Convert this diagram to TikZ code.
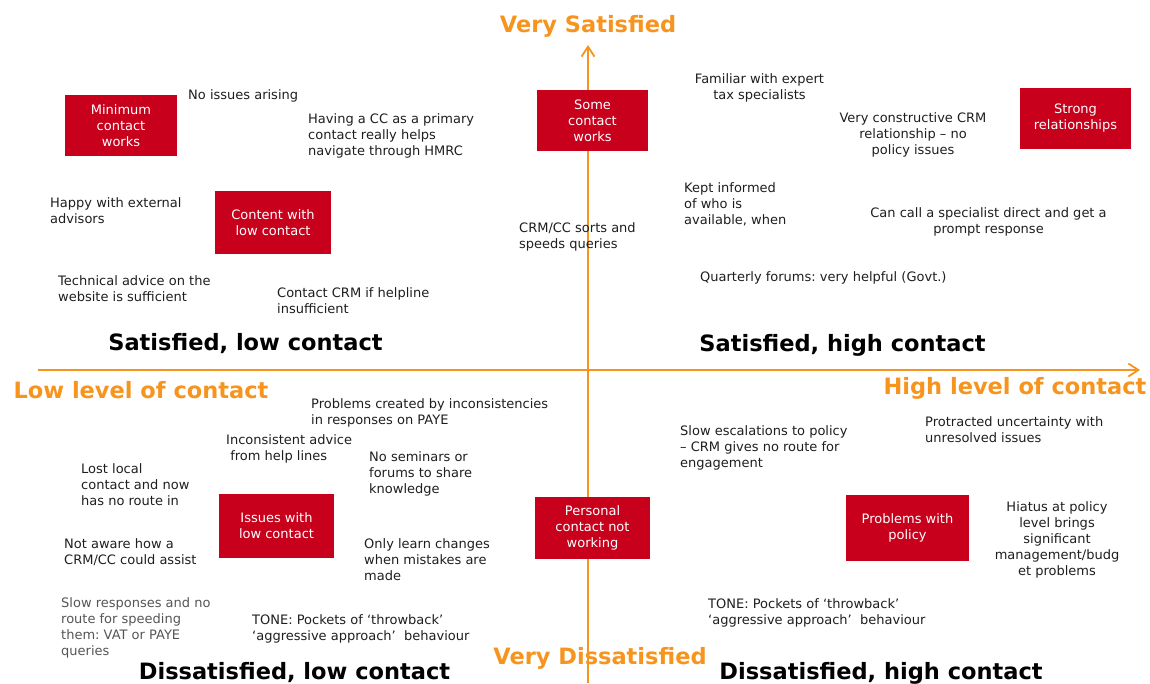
\documentclass[tikz,border=0pt]{standalone}
\usepackage{fontspec}
\setmainfont{DejaVu Sans}
\usetikzlibrary{arrows.meta}
\definecolor{axisorange}{RGB}{247,148,30}
\definecolor{boxred}{RGB}{200,0,28}
\definecolor{notegray}{RGB}{30,30,30}
\definecolor{faintgray}{RGB}{85,85,85}

\begin{document}
\begin{tikzpicture}[x=1pt, y=-1pt,
	box/.style={fill=boxred, text=white, align=center, inner sep=0pt, font=\fontsize{13}{16}\selectfont},
	note/.style={anchor=base west, align=left, inner sep=0pt, text=notegray, font=\fontsize{13}{16}\selectfont},
	cnote/.style={note, anchor=base, align=center},
	axis/.style={draw=axisorange, line width=1.8pt, -{Straight Barb[length=10pt,width=13pt]}},
	axislabel/.style={anchor=base, inner sep=0pt, text=axisorange, font=\fontsize{22.5}{27}\selectfont\bfseries},
	quadrant/.style={anchor=base, inner sep=0pt, font=\fontsize{22.5}{27}\selectfont\bfseries}]
	\useasboundingbox (0,0) rectangle (1150,683);
	\coordinate (xstart) at (38,370);
	\coordinate (xend) at (1140,370);
	\coordinate (ystart) at (588,683);
	\coordinate (yend) at (588,45);
	\draw[axis] (xstart) -- (xend);
	\draw[axis] (ystart) -- (yend);

	\node[axislabel] (vsat) at (588,32.5) {Very Satisfied};
	\node[axislabel] (vdis) at (600,664) {Very Dissatisfied};
	\node[axislabel] (lowlev) at (141,398) {Low level of contact};
	\node[axislabel] (highlev) at (1015,394) {High level of contact};
	\node[quadrant] (satlow) at (245.5,350) {Satisfied, low contact};
	\node[quadrant] (sathigh) at (842.5,351) {Satisfied, high contact};
	\node[quadrant] (dislow) at (294.5,679) {Dissatisfied, low contact};
	\node[quadrant] (dishigh) at (881,679) {Dissatisfied, high contact};

	\node[box, minimum width=112, minimum height=61] (minimum) at (121,125.5) {Minimum\\contact\\works};
	\node[box, minimum width=116, minimum height=63] (content) at (273,222.5) {Content with\\low contact};
	\node[box, minimum width=111, minimum height=61] (some) at (592.5,120.5) {Some\\contact\\works};
	\node[box, minimum width=111, minimum height=61] (strong) at (1075.5,118.5) {Strong\\relationships};
	\node[box, minimum width=115, minimum height=64] (issues) at (276.5,526) {Issues with\\low contact};
	\node[box, minimum width=115, minimum height=62] (personal) at (592.5,528) {Personal\\contact not\\working};
	\node[box, minimum width=123, minimum height=66] (policy) at (907.5,528) {Problems with\\policy};

	\node[note] (noissues) at (188,99) {No issues arising};
	\node[note] (primary) at (308,155) {Having a CC as a primary\\contact really helps\\navigate through HMRC};
	\node[note] (advisors) at (50,223) {Happy with external\\advisors};
	\node[note] (website) at (58,301) {Technical advice on the\\website is sufficient};
	\node[note] (helpline) at (277,313) {Contact CRM if helpline\\insufficient};
	\node[note] (sorts) at (519,248) {CRM/CC sorts and\\speeds queries};
	\node[cnote] (expert) at (759.5,99) {Familiar with expert\\tax specialists};
	\node[cnote] (constructive) at (913,154) {Very constructive CRM\\relationship -- no\\policy issues};
	\node[note] (informed) at (684,224) {Kept informed\\of who is\\available, when};
	\node[cnote] (direct) at (988.5,233) {Can call a specialist direct and get a\\prompt response};
	\node[note] (forums) at (700,281) {Quarterly forums:\ very helpful (Govt.)};

	\node[note] (paye) at (311,424) {Problems created by inconsistencies\\in responses on PAYE};
	\node[note] (advice) at (226,460) {Inconsistent advice\\\ from help lines};
	\node[note] (lostlocal) at (81,505) {Lost local\\contact and now\\has no route in};
	\node[note] (seminars) at (369,493) {No seminars or\\forums to share\\knowledge};
	\node[note] (notaware) at (64,564) {Not aware how a\\CRM/CC could assist};
	\node[note] (learn) at (364,580) {Only learn changes\\when mistakes are\\made};
	\node[note, text=faintgray] (slowresp) at (61,655) {Slow responses and no\\route for speeding\\them:\ VAT or PAYE\\queries};
	\node[note] (toneleft) at (252,640) {TONE:\ Pockets of `throwback'\\`aggressive approach'\ \ behaviour};
	\node[note] (escalation) at (680,467) {Slow escalations to policy\\-- CRM gives no route for\\engagement};
	\node[note] (uncertainty) at (925,442) {Protracted uncertainty with\\unresolved issues};
	\node[cnote] (hiatus) at (1057,575) {Hiatus at policy\\level brings\\significant\\management/budg\\et problems};
	\node[note] (toneright) at (708,624) {TONE:\ Pockets of `throwback'\\`aggressive approach'\ \ behaviour};
\end{tikzpicture}
\end{document}
